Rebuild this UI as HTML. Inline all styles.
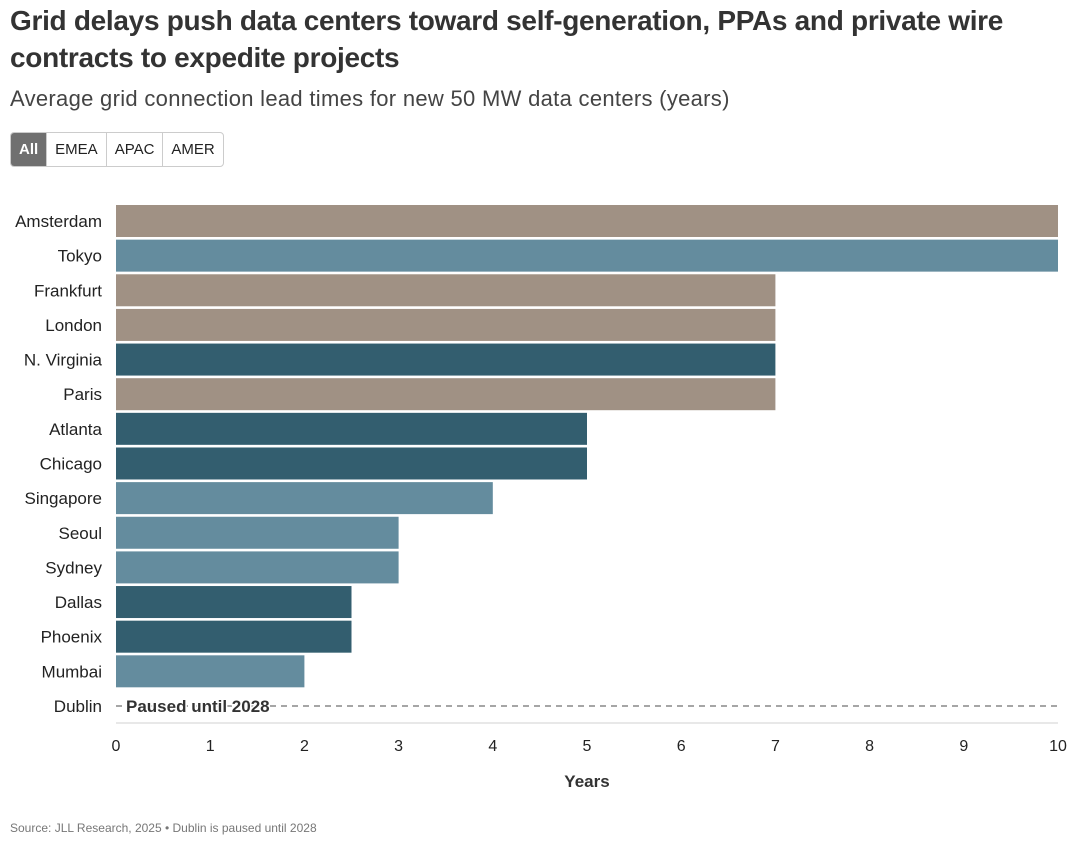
<!DOCTYPE html>
<html><head><meta charset="utf-8">
<style>
body{margin:0;width:1080px;height:846px;background:#fff;font-family:"Liberation Sans",sans-serif;overflow:hidden;position:relative}
h1{position:absolute;left:10px;top:2px;margin:0;font-size:28px;line-height:37px;font-weight:bold;color:#333;letter-spacing:-0.3px;width:1060px}
.sub{position:absolute;left:10px;top:86px;font-size:22px;color:#444;letter-spacing:0.3px}
.btns{position:absolute;left:10px;top:132px;display:flex;border:1px solid #ccc;border-radius:4px;overflow:hidden}
.btns div{padding:0 8px;height:33px;line-height:33px;font-size:15px;color:#222;border-left:1px solid #ccc}
.btns div:first-child{border-left:none;background:#707070;color:#fff;font-weight:bold}
.src{position:absolute;left:10px;top:821px;font-size:12px;color:#777}
svg{position:absolute;left:0;top:0}
</style></head><body>
<h1>Grid delays push data centers toward self-generation, PPAs and private wire contracts to expedite projects</h1>
<div class="sub">Average grid connection lead times for new 50 MW data centers (years)</div>
<div class="btns">
<div>All</div>
<div>EMEA</div>
<div>APAC</div>
<div>AMER</div>
</div>
<svg id="chart" width="1080" height="846"></svg>
<div class="src">Source: JLL Research, 2025 • Dublin is paused until 2028</div>
<script>
const cities=["Amsterdam","Tokyo","Frankfurt","London","N. Virginia","Paris","Atlanta","Chicago","Singapore","Seoul","Sydney","Dallas","Phoenix","Mumbai","Dublin"];
const values=[10,10,7,7,7,7,5,5,4,3,3,2.5,2.5,2,null];
const regions=["EMEA","APAC","EMEA","EMEA","AMER","EMEA","AMER","AMER","APAC","APAC","APAC","AMER","AMER","APAC","EMEA"];
const ticks=[0,1,2,3,4,5,6,7,8,9,10];
const colors={EMEA:"#a09184",APAC:"#648c9e",AMER:"#335e6f"};
const svg=document.getElementById('chart');const NS="http://www.w3.org/2000/svg";
const x=v=>116+v*94.2;
const yc=i=>221+i*34.64;
function mk(t,a,txt){const e=document.createElementNS(NS,t);for(const k in a)e.setAttribute(k,a[k]);if(txt!=null)e.textContent=txt;svg.appendChild(e);return e;}
cities.forEach((c,i)=>{
 const l=mk('text',{x:102,y:yc(i)+6,'text-anchor':'end','font-size':17,fill:'#222'},c);
 
 
 if(values[i]!=null){
  const r=mk('rect',{x:x(0),y:yc(i)-16,width:x(values[i])-x(0),height:32,fill:colors[regions[i]]});
  
  
 }else{
  const d=mk('line',{x1:x(0),x2:x(10),y1:yc(i),y2:yc(i),stroke:'#888','stroke-width':1.5,'stroke-dasharray':'6,5'});
  
  
  const t=mk('text',{x:x(0)+10,y:yc(i)+6,'font-size':17,'font-weight':'bold',fill:'#333',stroke:'#fff','stroke-width':3,'paint-order':'stroke'},'Paused until 2028');
  
  
 }
});
const ax=mk('line',{x1:x(0),x2:x(10),y1:723,y2:723,stroke:'#e0e0e0','stroke-width':1.5});


ticks.forEach(t=>{
 const e=mk('text',{x:x(t),y:751,'text-anchor':'middle','font-size':16,fill:'#222'},t);
 
 
});
const xt=mk('text',{x:587,y:787,'text-anchor':'middle','font-size':17,'font-weight':'bold',fill:'#333'},'Years');


</script>
</body></html>
